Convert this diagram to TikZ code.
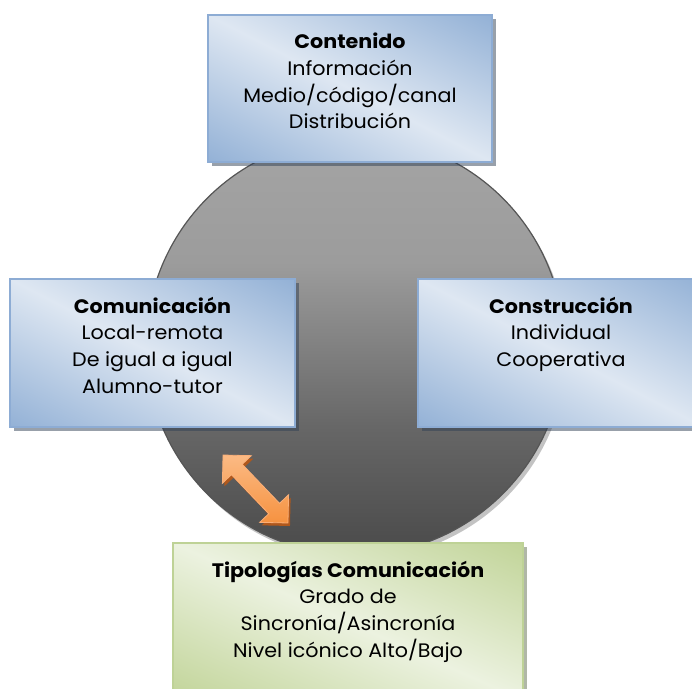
\documentclass[tikz,border=0pt]{standalone}
\usepackage{fontspec}
\setmainfont{Poppins}[FakeStretch=1.06]
\usetikzlibrary{shadows}
\definecolor{blueedge}{RGB}{141,172,212}
\definecolor{greenedge}{RGB}{190,210,150}
\definecolor{cbot}{RGB}{74,74,74}
\definecolor{cmidlow}{RGB}{102,102,102}
\definecolor{cmidhigh}{RGB}{156,156,156}
\definecolor{ctop}{RGB}{164,164,164}
\definecolor{cedge}{RGB}{85,85,85}
\definecolor{cshadow}{RGB}{195,195,195}
\definecolor{orangelight}{RGB}{251,186,132}
\definecolor{orangemain}{RGB}{246,146,64}
\definecolor{orangeedge}{RGB}{250,175,120}
\definecolor{orangeshadow}{RGB}{176,88,28}
\definecolor{shadowblue}{RGB}{50,65,85}
\definecolor{shadowgreen}{RGB}{80,95,60}
% light along the top-left / bottom-right diagonal, dark towards the other two corners
\pgfdeclarefunctionalshading{blueshade}{\pgfpoint{0bp}{0bp}}{\pgfpoint{100bp}{100bp}}{}{
  add 100 sub 50 div abs dup 1 gt {pop 1} if
  dup -0.295 mul 0.871 add exch
  dup -0.212 mul 0.906 add exch
  -0.110 mul 0.949 add
}
\pgfdeclarefunctionalshading{greenshade}{\pgfpoint{0bp}{0bp}}{\pgfpoint{100bp}{100bp}}{}{
  add 100 sub 50 div abs dup 1 gt {pop 1} if
  dup -0.168 mul 0.925 add exch
  dup -0.118 mul 0.949 add exch
  -0.282 mul 0.878 add
}
\pgfdeclareverticalshading{circshade}{100bp}{color(0bp)=(cbot); color(25bp)=(cbot); color(40bp)=(cmidlow); color(60bp)=(cmidhigh); color(75bp)=(ctop); color(100bp)=(ctop)}
\tikzset{
  bluebox/.style={rectangle, draw=blueedge, line width=1.4pt, shading=blueshade, inner sep=0pt,
    drop shadow={shadow xshift=4pt, shadow yshift=-4pt, fill=shadowblue, opacity=0.5}},
  greenbox/.style={rectangle, draw=greenedge, line width=1.4pt, shading=greenshade, inner sep=0pt,
    drop shadow={shadow xshift=4pt, shadow yshift=-4pt, fill=shadowgreen, opacity=0.45}},
  boxtext/.style={anchor=north, align=center, inner sep=0pt, font=\fontsize{19.5}{26.7}\selectfont, text=black},
  core/.style={circle, draw=cedge, line width=1.2pt, shading=circshade, inner sep=0pt, minimum size=418pt},
}
\begin{document}
\begin{tikzpicture}[x=1pt,y=1pt]
\useasboundingbox (0,0) rectangle (692,-688);
\clip (0,0) rectangle (692,-688);
% central circle with its soft shadow
\fill[cshadow] (358,-350) circle (209);
\node[core] (circ) at (355,-346) {};
% boxes
\node[bluebox, minimum width=284pt, minimum height=147pt] (cont) at (350,-88.5) {};
\node[bluebox, minimum width=285pt, minimum height=148pt] (comu) at (152.5,-353) {};
\node[bluebox, minimum width=286pt, minimum height=148pt] (cons) at (561,-353) {};
\node[greenbox, minimum width=350pt, minimum height=157pt] (tipo) at (348,-621.5) {};
% texts
\node[boxtext] (contT) at ([yshift=-18.5pt]cont.north) {\textbf{Contenido}\\Información\\Medio/código/canal\\Distribución};
\node[boxtext] (comuT) at ([yshift=-18.5pt]comu.north) {\textbf{Comunicación}\\Local-remota\\De igual a igual\\Alumno-tutor};
\node[boxtext] (consT) at ([yshift=-18.5pt]cons.north) {\textbf{Construcción}\\Individual\\Cooperativa};
\node[boxtext] (tipoT) at ([yshift=-18.5pt]tipo.north) {\textbf{Tipologías Comunicación}\\Grado de\\Sincronía/Asincronía\\Nivel icónico Alto/Bajo};
% orange double arrow
\begin{scope}[shift={(257.5,-492)}, rotate=-46.3]
\fill[orangeshadow] (-47,0) -- (-27,20) -- (-27,7.5) -- (27,7.5) -- (27,20) -- (47,0) -- (27,-20) -- (27,-7.5) -- (-27,-7.5) -- (-27,-20) -- cycle;
\end{scope}
\begin{scope}[shift={(255.5,-489)}, rotate=-46.3]
\path[draw=orangeedge, line width=0.8pt, top color=orangelight, bottom color=orangemain] (-47,0) -- (-27,20) -- (-27,7.5) -- (27,7.5) -- (27,20) -- (47,0) -- (27,-20) -- (27,-7.5) -- (-27,-7.5) -- (-27,-20) -- cycle;
\end{scope}
\end{tikzpicture}
\end{document}
